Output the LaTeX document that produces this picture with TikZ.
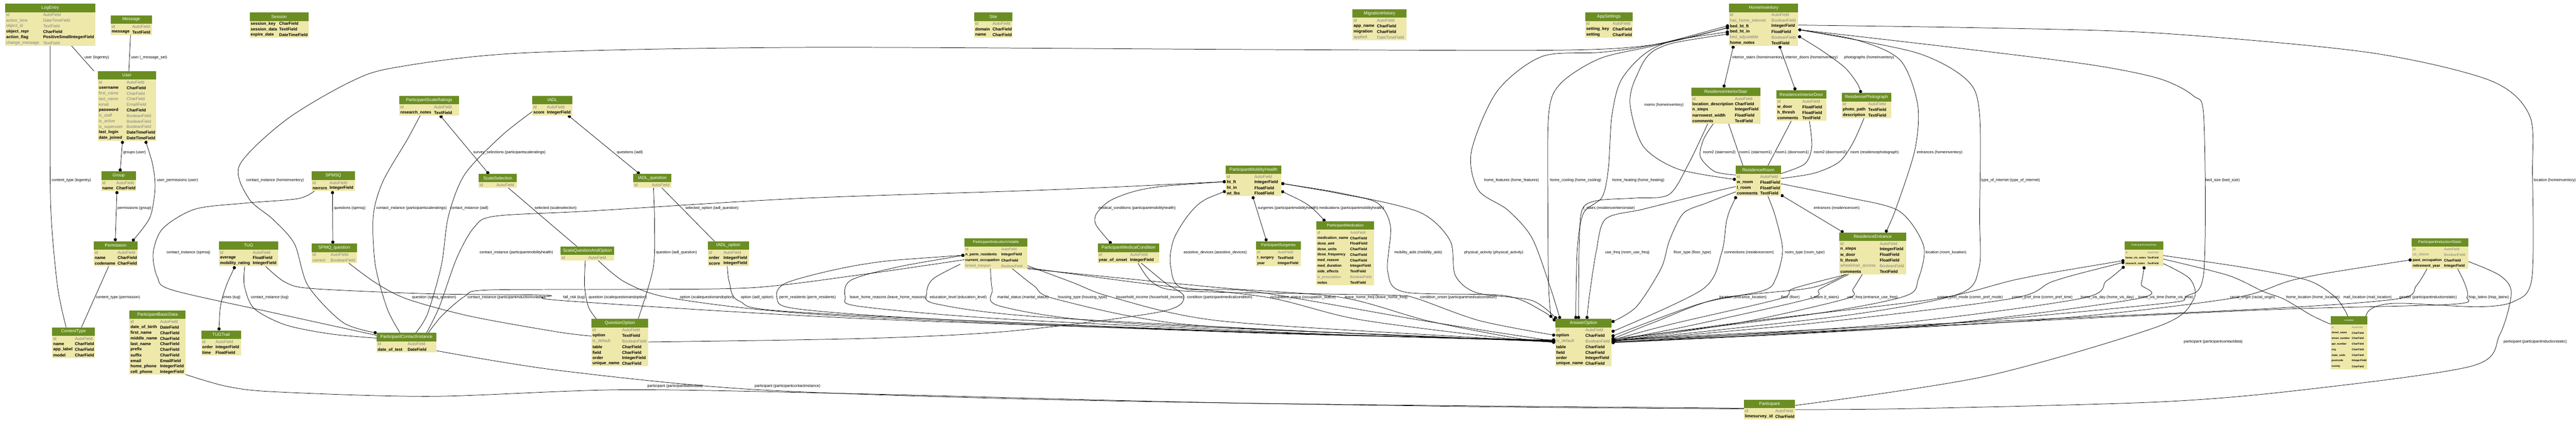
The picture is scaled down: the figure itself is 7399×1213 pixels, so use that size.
\documentclass[tikz,border=0pt]{standalone}
\usepackage{fontspec}
\setmainfont{Liberation Sans}
\usetikzlibrary{arrows.meta}
\pgfdeclarelayer{bg}
\pgfsetlayers{bg,main}
\definecolor{hdr}{HTML}{6B8E23}
\definecolor{bodyc}{HTML}{EEE8AA}
\definecolor{fg}{HTML}{7F7F7F}
\definecolor{fk}{HTML}{000000}
\newcommand\rowfontA{\fontsize{12}{14}\selectfont}
\newcommand\headfontA{\fontsize{12.5}{14}\selectfont}
\newcommand\rowfontB{\fontsize{10.5}{12}\selectfont}
\newcommand\headfontB{\fontsize{11}{12}\selectfont}
\newcommand\rowfontC{\fontsize{7.5}{9}\selectfont}
\newcommand\headfontC{\fontsize{7}{8}\selectfont}
\newcommand\fontfg{\mdseries}
\newcommand\fontfk{\bfseries}
\newcommand{\mtab}[9]{%
  \node[tbody, anchor=north west, minimum width=#4pt, minimum height={(24+16*#6)*1pt}] (#1) at (#2,#3) {};
  \node[thead, anchor=north west, minimum width=#4pt, font=\csname headfont#9\endcsname] (#1-h) at (#2,#3) {#7};
  \foreach \rc/\rf/\rt [count=\ri] in {#8} {%
    \node[fld, text=\rc, font=\csname rowfont#9\endcsname\csname font\rc\endcsname] (#1-f\ri) at ([shift={(3,{16*\ri+16})}]#1.north west) {\rf};
    \node[fld, text=\rc, font=\csname rowfont#9\endcsname\csname font\rc\endcsname] (#1-t\ri) at ([shift={(#5,{16*\ri+16})}]#1.north west) {\rt};
  }%
}
\begin{document}
\begin{tikzpicture}[x=1pt,y=-1pt,
  tbody/.style={fill=bodyc, inner sep=0pt, outer sep=0pt},
  thead/.style={fill=hdr, inner sep=0pt, outer sep=0pt, minimum height=24pt, text=white},
  fld/.style={anchor=west, inner sep=0pt, outer sep=0pt},
  elab/.style={anchor=west, inner sep=0.5pt, font=\fontsize{11}{12}\selectfont},
  conn/.style={line width=1.1pt, draw=black},
  dS/.style={{Circle[length=9pt]}-},
  dE/.style={-{Circle[length=9pt]}},
  dB/.style={{Circle[length=9pt]}-{Circle[length=9pt]}}]
\useasboundingbox (0,0) rectangle (7399,1213);

% ---------------- tables ----------------
\mtab{logentry}{15}{11}{259}{109}{6}{LogEntry}{fg/id/AutoField, fg/action\_time/DateTimeField, fg/object\_id/TextField, fk/object\_repr/CharField, fk/action\_flag/PositiveSmallIntegerField, fg/change\_message/TextField}{A}
\mtab{message}{318}{44}{118}{62}{2}{Message}{fg/id/AutoField, fk/message/TextField}{A}
\mtab{session}{717}{36}{169}{85}{3}{Session}{fk/session\_key/CharField, fk/session\_data/TextField, fk/expire\_date/DateTimeField}{A}
\mtab{user}{281}{204}{167}{83}{11}{User}{fg/id/AutoField, fk/username/CharField, fg/first\_name/CharField, fg/last\_name/CharField, fg/email/EmailField, fk/password/CharField, fg/is\_staff/BooleanField, fg/is\_active/BooleanField, fg/is\_superuser/BooleanField, fk/last\_login/DateTimeField, fk/date\_joined/DateTimeField}{A}
\mtab{group}{291}{492}{100}{43}{2}{Group}{fg/id/AutoField, fk/name/CharField}{A}
\mtab{spmsq}{895}{492}{125}{52}{2}{SPMSQ}{fg/id/AutoField, fk/nerrors/IntegerField}{A}
\mtab{psr}{1147}{275}{171}{100}{2}{ParticipantScaleRatings}{fg/id/AutoField, fk/research\_notes/TextField}{A}
\mtab{iadl}{1529}{275}{115}{42}{2}{IADL}{fg/id/AutoField, fk/score/IntegerField}{A}
\mtab{scalesel}{1375}{499}{109}{51}{1}{ScaleSelection}{fg/id/AutoField}{A}
\mtab{iadlq}{1819}{499}{109}{53}{1}{IADL\_question}{fg/id/AutoField}{A}
\mtab{site}{2798}{36}{110}{53}{3}{Site}{fg/id/AutoField, fk/domain/CharField, fk/name/CharField}{A}
\mtab{pmh}{3521}{475}{159}{82}{4}{ParticipantMobilityHealth}{fg/id/AutoField, fk/ht\_ft/IntegerField, fk/ht\_in/FloatField, fk/wt\_lbs/FloatField}{A}
\mtab{mighist}{3885}{27}{155}{70}{4}{MigrationHistory}{fg/id/AutoField, fk/app\_name/CharField, fk/migration/CharField, fg/applied/DateTimeField}{A}
\mtab{appset}{4553}{36}{136}{79}{3}{AppSettings}{fg/id/AutoField, fk/setting\_key/CharField, fk/setting/CharField}{A}
\mtab{hi}{4966}{11}{199}{122}{6}{HomeInventory}{fg/id/AutoField, fg/has\_home\_internet/BooleanField, fk/bed\_ht\_ft/IntegerField, fk/bed\_ht\_in/FloatField, fg/bed\_adjustable/BooleanField, fk/home\_notes/TextField}{A}
\mtab{ris}{4858}{251}{198}{125}{5}{ResidenceInteriorStair}{fg/id/AutoField, fk/location\_description/CharField, fk/n\_steps/IntegerField, fk/narrowest\_width/FloatField, fk/comments/TextField}{A}
\mtab{rid}{5102}{259}{144}{75}{4}{ResidenceInteriorDoor}{fg/id/AutoField, fk/w\_door/FloatField, fk/h\_thresh/FloatField, fk/comments/TextField}{A}
\mtab{rp}{5290}{267}{142}{76}{3}{ResidencePhotograph}{fg/id/AutoField, fk/photo\_path/TextField, fk/description/TextField}{A}
\mtab{rr}{4986}{475}{129}{70}{4}{ResidenceRoom}{fg/id/AutoField, fk/w\_room/FloatField, fk/l\_room/FloatField, fk/comments/TextField}{A}
\mtab{perm}{269}{692}{126}{69}{3}{Permission}{fg/id/AutoField, fk/name/CharField, fk/codename/CharField}{A}
\mtab{tug}{629}{692}{170}{97}{3}{TUG}{fg/id/AutoField, fk/average/FloatField, fk/mobility\_rating/IntegerField}{A}
\mtab{spmqq}{895}{699}{130}{55}{2}{SPMQ\_question}{fg/id/AutoField, fg/correct/BooleanField}{A}
\mtab{ct}{150}{939}{122}{65}{4}{ContentType}{fg/id/AutoField, fk/name/CharField, fk/app\_label/CharField, fk/model/CharField}{A}
\mtab{pbd}{372}{891}{161}{88}{10}{ParticipantBasicData}{fg/id/AutoField, fk/date\_of\_birth/DateField, fk/first\_name/CharField, fk/middle\_name/CharField, fk/last\_name/CharField, fk/prefix/CharField, fk/suffix/CharField, fk/email/EmailField, fk/home\_phone/IntegerField, fk/cell\_phone/IntegerField}{A}
\mtab{tugt}{578}{948}{114}{41}{3}{TUGTrail}{fg/id/AutoField, fk/order/IntegerField, fk/time/FloatField}{A}
\mtab{pci}{1082}{955}{171}{89}{2}{ParticipantContactInstance}{fg/id/AutoField, fk/date\_of\_test/DateField}{A}
\mtab{sqo}{1610}{707}{154}{80}{1}{ScaleQuestionAndOption}{fg/id/AutoField}{A}
\mtab{iadlo}{2033}{692}{118}{45}{3}{IADL\_option}{fg/id/AutoField, fk/order/IntegerField, fk/score/IntegerField}{A}
\mtab{qo}{1699}{915}{163}{88}{7}{QuestionOption}{fg/id/AutoField, fk/option/TextField, fg/is\_default/BooleanField, fk/table/CharField, fk/field/CharField, fk/order/IntegerField, fk/unique\_name/CharField}{A}
\mtab{piv}{2770}{683}{181}{106}{4}{ParticipantInductionVolatile}{fg/id/AutoField, fk/n\_perm\_residents/IntegerField, fk/current\_occupation/CharField, fg/limited\_tranport/BooleanField}{B}
\mtab{pmc}{3153}{699}{177}{93}{2}{ParticipantMedicalCondition}{fg/id/AutoField, fk/year\_of\_onset/IntegerField}{A}
\mtab{ps}{3608}{692}{128}{62}{3}{ParticipantSurgeries}{fg/id/AutoField, fk/t\_surgery/TextField, fk/year/IntegerField}{B}
\mtab{pm}{3781}{635}{166}{97}{10}{ParticipantMedication}{fg/id/AutoField, fk/medication\_name/CharField, fk/dose\_amt/FloatField, fk/dose\_units/CharField, fk/dose\_frequency/CharField, fk/med\_reason/CharField, fk/med\_duration/IntegerField, fk/side\_effects/TextField, fg/is\_prescription/BooleanField, fk/notes/TextField}{B}
\mtab{ao}{4467}{915}{162}{87}{7}{AnswerOption}{fg/id/AutoField, fk/option/CharField, fg/is\_default/BooleanField, fk/table/CharField, fk/field/CharField, fk/order/IntegerField, fk/unique\_name/CharField}{A}
\mtab{re}{5283}{667}{192}{116}{6}{ResidenceEntrance}{fg/id/AutoField, fk/n\_steps/IntegerField, fk/w\_door/FloatField, fk/h\_thresh/FloatField, fg/wheelchair\_access/BooleanField, fk/comments/TextField}{A}
\mtab{pcd}{6102}{692}{111}{66}{3}{ParticipantContactData}{fg/id/AutoField, fk/home\_vis\_notes/TextField, fk/research\_notes/TextField}{C}
\mtab{part}{5009}{1147}{147}{90}{2}{Participant}{fg/id/AutoField, fk/limesurvey\_id/CharField}{A}
\mtab{pis}{6927}{683}{162}{93}{4}{ParticipantInductionStatic}{fg/id/AutoField, fg/us\_citizen/BooleanField, fk/past\_occupation/CharField, fk/retirement\_year/IntegerField}{B}
\mtab{loc}{6694}{907}{106}{61}{8}{Location}{fg/id/AutoField, fk/street\_name/CharField, fk/street\_number/CharField, fk/apt\_number/CharField, fk/city/CharField, fk/state\_code/CharField, fk/postcode/IntegerField, fk/county/CharField}{C}

% ---------------- connectors ----------------
\begin{pgfonlayer}{bg}
\fill[white] (0,0) rectangle (7399,1213);
\draw[conn] ([shift={(190,120)}]logentry.north west) -- ([shift={(-11,0)}]user.north west);
\draw[conn] ([shift={(57,56)}]message.north west) -- ([shift={(89,0)}]user.north west);
\draw[conn,dB] ([shift={(71,200)}]user.north west) -- ([shift={(54,0)}]group.north west);
\draw[conn,dB] plot[smooth] coordinates {([shift={(137,200)}]user.north west) (440,480) (445,545) (430,625) ([shift={(111,0)}]perm.north west)};
\draw[conn,dB] ([shift={(45,56)}]group.north west) -- ([shift={(62,0)}]perm.north west);
\draw[conn] plot[smooth] coordinates {([shift={(129,120)}]logentry.north west) (144,300) (146,600) (165,820) ([shift={(40,0)}]ct.north west)};
\draw[conn] ([shift={(43,72)}]perm.north west) -- ([shift={(84,0)}]ct.north west);
\draw[conn,dB] ([shift={(60,56)}]spmsq.north west) -- ([shift={(61,0)}]spmqq.north west);
\draw[conn] plot[smooth] coordinates {([shift={(8,56)}]spmsq.north west) (855,570) (700,583) (560,600) (468,655) (440,725) (452,795) (495,832) (780,896) ([shift={(0,7)}]pci.north west)};
\draw[conn,dB] plot[smooth] coordinates {([shift={(46,72)}]tug.north west) (648,825) (633,880) ([shift={(51,0)}]tugt.north west)};
\draw[conn] plot[smooth] coordinates {([shift={(74,72)}]tug.north west) (702,820) (730,885) (820,932) (950,958) ([shift={(0,15)}]pci.north west)};
\draw[conn,dE] plot[smooth] coordinates {([shift={(0,67)}]hi.north west) (4752,128) (4470,144) (3600,142) (2300,136) (1500,152) (1133,194) (1000,238) (820,345) (688,474) (715,570) (785,630) (846,700) (885,820) (985,925) ([shift={(0,0)}]pci.north west)};
\draw[conn,dB] ([shift={(117,56)}]psr.north west) -- ([shift={(29,0)}]scalesel.north west);
\draw[conn,dB] ([shift={(103,56)}]iadl.north west) -- ([shift={(18,0)}]iadlq.north west);
\draw[conn] plot[smooth] coordinates {([shift={(60,56)}]psr.north west) (1170,400) (1100,520) (1072,620) (1078,760) (1112,885) ([shift={(67,0)}]pci.north west)};
\draw[conn] plot[smooth] coordinates {([shift={(0,45)}]iadl.north west) (1440,390) (1335,500) (1288,620) (1268,760) (1228,900) ([shift={(112,0)}]pci.north west)};
\draw[conn] ([shift={(85,40)}]scalesel.north west) -- ([shift={(47,0)}]sqo.north west);
\draw[conn] plot[smooth] coordinates {([shift={(58,40)}]iadlq.north west) (1880,640) (1876,770) ([shift={(134,0)}]qo.north west)};
\draw[conn] ([shift={(82,40)}]iadlq.north west) -- ([shift={(19,0)}]iadlo.north west);
\draw[conn,dS] plot[smooth] coordinates {([shift={(0,46)}]pmh.north west) (3000,545) (2300,569) (1700,605) (1423,620) (1362,652) (1312,740) (1262,880) ([shift={(143,0)}]pci.north west)};
\draw[conn,dB] plot[smooth] coordinates {([shift={(0,46)}]pmh.north west) (3300,540) (3195,572) (3150,612) (3148,645) ([shift={(39,0)}]pmc.north west)};
\draw[conn,dB] plot[smooth] coordinates {([shift={(0,73)}]pmh.north west) (3450,580) (3407,625) (3370,690) (3362,760) (3397,827) (3600,836) (4100,922) ([shift={(0,64)}]ao.north west)};
\draw[conn,dB] ([shift={(77,88)}]pmh.north west) -- ([shift={(30,0)}]ps.north west);
\draw[conn,dB] plot[smooth] coordinates {([shift={(159,73)}]pmh.north west) (3760,590) ([shift={(25,0)}]pm.north west)};
\draw[conn,dB] plot[smooth] coordinates {([shift={(159,51)}]pmh.north west) (3850,556) (3956,582) (3994,650) (3986,780) (4036,838) (4321,848) (4430,892) ([shift={(0,6)}]ao.north west)};
\draw[conn,dB] plot[smooth] coordinates {([shift={(159,51)}]pmh.north west) (3880,560) (4080,610) (4165,690) (4180,790) (4242,840) (4400,862) ([shift={(4,0)}]ao.north west)};
\draw[conn,dB] plot[smooth] coordinates {([shift={(0,62)}]hi.north west) (4752,128) (4600,150) (4429,162) (4300,262) (4226,435) (4246,545) (4330,602) (4400,682) (4452,822) ([shift={(14,0)}]ao.north west)};
\draw[conn,dB] plot[smooth] coordinates {([shift={(0,68)}]hi.north west) (4752,131) (4595,168) (4482,240) (4448,330) (4446,620) (4448,820) ([shift={(-12,-3)}]ao.north west)};
\draw[conn,dB] plot[smooth] coordinates {([shift={(0,80)}]hi.north west) (4760,133) (4661,222) (4630,330) (4620,480) (4602,565) (4548,612) (4530,720) ([shift={(59,0)}]ao.north west)};
\draw[conn,dB] plot[smooth] coordinates {([shift={(0,86)}]hi.north west) (4760,140) (4700,220) (4682,300) (4720,420) (4820,485) ([shift={(0,40)}]rr.north west)};
\draw[conn,dE] plot[smooth] coordinates {([shift={(47,104)}]ris.north west) (4850,470) (4794,558) (4700,568) (4590,575) (4545,600) (4536,700) ([shift={(67,0)}]ao.north west)};
\draw[conn,dE] plot[smooth] coordinates {([shift={(0,60)}]rr.north west) (4900,555) (4720,600) (4612,628) (4585,720) (4565,850) ([shift={(91,0)}]ao.north west)};
\draw[conn,dE] plot[smooth] coordinates {([shift={(0,75)}]rr.north west) (4900,583) (4835,612) (4795,690) (4771,770) (4700,880) ([shift={(162,9)}]ao.north west)};
\draw[conn,dB] plot[smooth] coordinates {([shift={(1,88)}]rr.north west) (4960,630) (4945,725) (4890,830) ([shift={(162,37)}]ao.north west)};
\draw[conn,dE] plot[smooth] coordinates {([shift={(92,88)}]rr.north west) (5099,620) (5120,717) (5100,800) (5063,834) (4880,872) ([shift={(162,50)}]ao.north west)};
\draw[conn,dE] plot[smooth] coordinates {([shift={(129,52)}]rr.north west) (5300,565) (5454,605) (5525,705) (5510,800) (5470,850) (5200,902) ([shift={(162,58)}]ao.north west)};
\draw[conn,dB] ([shift={(129,84)}]rr.north west) -- ([shift={(12,0)}]re.north west);
\draw[conn,dB] ([shift={(13,120)}]hi.north west) -- ([shift={(93,0)}]ris.north west);
\draw[conn,dB] ([shift={(145,120)}]hi.north west) -- ([shift={(55,0)}]rid.north west);
\draw[conn,dB] plot[smooth] coordinates {([shift={(199,92)}]hi.north west) (5240,150) (5300,195) (5335,240) ([shift={(55,0)}]rp.north west)};
\draw[conn,dB] plot[smooth] coordinates {([shift={(199,74)}]hi.north west) (5350,120) (5460,175) (5508,300) (5500,430) (5445,600) ([shift={(133,0)}]re.north west)};
\draw[conn,dE] plot[smooth] coordinates {([shift={(199,74)}]hi.north west) (5500,150) (5650,230) (5686,330) (5686,620) (5684,770) (5624,844) (5300,905) ([shift={(162,64)}]ao.north west)};
\draw[conn,dE] plot[smooth] coordinates {([shift={(199,74)}]hi.north west) (5600,135) (6000,185) (6200,225) (6300,275) (6330,340) (6330,780) (6280,850) (6200,872) (5500,935) ([shift={(162,68)}]ao.north west)};
\draw[conn] plot[smooth] coordinates {([shift={(199,61)}]hi.north west) (5700,80) (6200,95) (6800,150) (7150,230) (7265,330) (7274,500) (7272,800) (7220,865) (7117,880) (6900,870) (6835,876) (6805,890) ([shift={(101,0)}]loc.north west)};
\draw[conn] ([shift={(107,104)}]ris.north west) -- ([shift={(20,0)}]rr.north west);
\draw[conn] plot[smooth] coordinates {([shift={(63,104)}]ris.north west) (4893,400) (4884,450) (4925,492) ([shift={(0,27)}]rr.north west)};
\draw[conn] ([shift={(43,88)}]rid.north west) -- ([shift={(92,0)}]rr.north west);
\draw[conn] plot[smooth] coordinates {([shift={(95,88)}]rid.north west) (5204,420) (5184,470) ([shift={(129,23)}]rr.north west)};
\draw[conn] plot[smooth] coordinates {([shift={(64,72)}]rp.north west) (5322,410) (5282,465) (5210,497) ([shift={(129,37)}]rr.north west)};
\draw[conn] plot[smooth] coordinates {([shift={(71,40)}]sqo.north west) (1679,820) (1690,880) ([shift={(14,0)}]qo.north west)};
\draw[conn,dE] plot[smooth] coordinates {([shift={(108,40)}]sqo.north west) (1800,812) (1945,858) (2400,905) (3600,955) ([shift={(0,60)}]ao.north west)};
\draw[conn,dE] plot[smooth] coordinates {([shift={(56,72)}]iadlo.north west) (2095,810) (2124,864) (2300,896) (3500,950) ([shift={(0,62)}]ao.north west)};
\draw[conn,dB] plot[smooth] coordinates {([shift={(0,49)}]piv.north west) (2480,758) (2262,810) (2232,856) (2290,886) (2700,916) (3700,956) ([shift={(0,63)}]ao.north west)};
\draw[conn,dB] plot[smooth] coordinates {([shift={(0,49)}]piv.north west) (2560,770) (2442,805) (2428,852) (2470,879) (2900,916) (3800,958) ([shift={(0,64)}]ao.north west)};
\draw[conn] plot[smooth] coordinates {([shift={(0,62)}]piv.north west) (2480,787) (2165,825) (1800,830) (1398,832) (1335,850) (1270,905) ([shift={(148,0)}]pci.north west)};
\draw[conn,dE] plot[smooth] coordinates {([shift={(134,72)}]tug.north west) (820,810) (900,828) (1240,843) (1572,847) (1612,862) (2500,915) (3900,962) ([shift={(0,62)}]ao.north west)};
\draw[conn] plot[smooth] coordinates {([shift={(107,56)}]spmqq.north west) (1080,812) (1170,858) (1350,907) (1600,952) ([shift={(0,49)}]qo.north west)};
\draw[conn] plot[smooth] coordinates {([shift={(171,51)}]pci.north west) (1600,1062) (2160,1117) (3000,1146) (4200,1166) ([shift={(0,26)}]part.north west)};
\draw[conn] plot[smooth] coordinates {([shift={(160,183)}]pbd.north west) (650,1108) (790,1124) (1240,1137) (1793,1118) (2480,1130) (3600,1157) ([shift={(0,24)}]part.north west)};
\draw[conn] plot[smooth] coordinates {([shift={(125,56)}]pmc.north west) (3345,810) (3401,852) (3330,895) (2900,950) (2480,971) ([shift={(163,66)}]qo.north west)};
\draw[conn,dE] plot[smooth] coordinates {([shift={(116,56)}]pmc.north west) (3310,810) (3389,834) (3720,842) (4000,847) (4068,856) (4250,920) ([shift={(0,47)}]ao.north west)};
\draw[conn,dE] plot[smooth] coordinates {([shift={(-12,75)}]piv.north west) (2680,800) (2662,840) (2690,872) (3000,910) (4000,962) ([shift={(0,64)}]ao.north west)};
\draw[conn,dE] plot[smooth] coordinates {([shift={(75,88)}]piv.north west) (2850,830) (2872,878) (3200,925) (4100,965) ([shift={(0,65)}]ao.north west)};
\draw[conn,dE] plot[smooth] coordinates {([shift={(138,88)}]piv.north west) (2970,820) (3033,858) (3400,930) (4100,965) ([shift={(0,66)}]ao.north west)};
\draw[conn,dE] plot[smooth] coordinates {([shift={(181,79)}]piv.north west) (3080,810) (3195,853) (3500,920) (4200,966) ([shift={(0,66)}]ao.north west)};
\draw[conn,dE] plot[smooth] coordinates {([shift={(181,85)}]piv.north west) (3300,815) (3640,853) (3900,916) (4300,968) ([shift={(0,67)}]ao.north west)};
\draw[conn,dE] plot[smooth] coordinates {([shift={(181,88)}]piv.north west) (3500,825) (3852,853) (4100,920) (4350,969) ([shift={(0,67)}]ao.north west)};
\draw[conn,dE] plot[smooth] coordinates {([shift={(18,120)}]re.north west) (5200,826) (4935,857) (4750,925) ([shift={(162,58)}]ao.north west)};
\draw[conn,dE] plot[smooth] coordinates {([shift={(22,120)}]re.north west) (5150,828) (5112,857) (4800,930) ([shift={(162,61)}]ao.north west)};
\draw[conn,dE] plot[smooth] coordinates {([shift={(27,120)}]re.north west) (5226,830) (5197,857) (4850,935) ([shift={(162,63)}]ao.north west)};
\draw[conn,dE] plot[smooth] coordinates {([shift={(66,120)}]re.north west) (5322,830) (5302,857) (5000,925) ([shift={(162,65)}]ao.north west)};
\draw[conn,dB] plot[smooth] coordinates {([shift={(0,55)}]pcd.north west) (5800,800) (5561,857) (5000,925) ([shift={(162,62)}]ao.north west)};
\draw[conn,dB] plot[smooth] coordinates {([shift={(0,60)}]pcd.north west) (5900,806) (5775,857) (5200,928) ([shift={(162,64)}]ao.north west)};
\draw[conn,dB] plot[smooth] coordinates {([shift={(0,72)}]pcd.north west) (6050,806) (5973,857) (5400,932) ([shift={(162,66)}]ao.north west)};
\draw[conn,dB] plot[smooth] coordinates {([shift={(57,72)}]pcd.north west) (6150,815) (6138,857) (5500,937) ([shift={(162,68)}]ao.north west)};
\draw[conn,dB] plot[smooth] coordinates {([shift={(0,62)}]pis.north west) (6600,800) (6402,857) (5800,922) ([shift={(162,66)}]ao.north west)};
\draw[conn] plot[smooth] coordinates {([shift={(111,51)}]pcd.north west) (6400,790) (6500,836) (6560,858) (6640,905) ([shift={(0,23)}]loc.north west)};
\draw[conn] plot[smooth] coordinates {([shift={(111,41)}]pcd.north west) (6450,768) (6628,804) (6705,850) (6735,890) ([shift={(49,0)}]loc.north west)};
\draw[conn,dE] plot[smooth] coordinates {([shift={(44,88)}]pis.north west) (6940,820) (6888,857) (6500,886) (5500,932) ([shift={(162,60)}]ao.north west)};
\draw[conn,dE] plot[smooth] coordinates {([shift={(132,88)}]pis.north west) (7080,815) (7086,852) (7040,873) (6500,889) (5500,937) ([shift={(162,62)}]ao.north west)};
\draw[conn] plot[smooth] coordinates {([shift={(162,67)}]pis.north west) (7180,790) (7213,840) (7180,960) (7100,1050) (6600,1120) (6200,1153) (5500,1172) ([shift={(147,28)}]part.north west)};
\draw[conn] plot[smooth] coordinates {([shift={(111,64)}]pcd.north west) (6290,800) (6300,860) (6200,936) (5700,1080) ([shift={(147,16)}]part.north west)};
\end{pgfonlayer}

% ---------------- labels ----------------
\node[elab] (l1) at (242,165) {user (logentry)};
\node[elab] (l2) at (376,165) {user (\_message\_set)};
\node[elab] (l3) at (353,437) {groups (user)};
\node[elab] (l4) at (450,517) {user\_permissions (user)};
\node[elab] (l5) at (337,597) {permissions (group)};
\node[elab] (l6) at (148,517) {content\_type (logentry)};
\node[elab] (l7) at (275,853) {content\_type (permission)};
\node[elab] (l8) at (959,597) {questions (spmsq)};
\node[elab] (l9) at (478,725) {contact\_instance (spmsq)};
\node[elab] (l10) at (638,853) {times (tug)};
\node[elab] (l11) at (720,853) {contact\_instance (tug)};
\node[elab] (l12) at (707,517) {contact\_instance (homeinventory)};
\node[elab] (l13) at (1359,437) {survey\_selections (participantscaleratings)};
\node[elab] (l14) at (1771,437) {questions (iadl)};
\node[elab] (l15) at (1080,597) {contact\_instance (participantscaleratings)};
\node[elab] (l16) at (1292,597) {contact\_instance (iadl)};
\node[elab] (l17) at (1535,597) {selected (scaleselection)};
\node[elab] (l18) at (1884,725) {question (iadl\_question)};
\node[elab] (l19) at (1968,597) {selected\_option (iadl\_question)};
\node[elab] (l20) at (1377,725) {contact\_instance (participantmobilityhealth)};
\node[elab] (l21) at (3154,597) {medical\_conditions (participantmobilityhealth)};
\node[elab] (l22) at (3399,725) {assistive\_devices (assistive\_devices)};
\node[elab] (l23) at (3612,597) {surgeries (participantmobilityhealth)};
\node[elab] (l24) at (3788,597) {medications (participantmobilityhealth)};
\node[elab] (l25) at (4004,725) {mobility\_aids (mobility\_aids)};
\node[elab] (l26) at (4205,725) {physical\_activity (physical\_activity)};
\node[elab] (l27) at (4262,517) {home\_features (home\_features)};
\node[elab] (l28) at (4451,517) {home\_cooling (home\_cooling)};
\node[elab] (l29) at (4630,517) {home\_heating (home\_heating)};
\node[elab] (l30) at (4722,301) {rooms (homeinventory)};
\node[elab] (l31) at (4547,597) {t\_stairs (residenceinteriorstair)};
\node[elab] (l32) at (4610,725) {use\_freq (room\_use\_freq)};
\node[elab] (l33) at (4807,725) {floor\_type (floor\_type)};
\node[elab] (l34) at (4952,725) {connections (residenceroom)};
\node[elab] (l35) at (5126,725) {room\_type (room\_type)};
\node[elab] (l36) at (5530,725) {location (room\_location)};
\node[elab] (l37) at (5209,597) {entrances (residenceroom)};
\node[elab] (l38) at (4975,165) {interior\_stairs (homeinventory)};
\node[elab] (l39) at (5128,165) {interior\_doors (homeinventory)};
\node[elab] (l40) at (5296,165) {photographs (homeinventory)};
\node[elab] (l41) at (5505,437) {entrances (homeinventory)};
\node[elab] (l42) at (5690,517) {type\_of\_internet (type\_of\_internet)};
\node[elab] (l43) at (6334,517) {bed\_size (bed\_size)};
\node[elab] (l44) at (7277,517) {location (homeinventory)};
\node[elab] (l45) at (4995,437) {room1 (stairroom1)};
\node[elab] (l46) at (4891,437) {room2 (stairroom2)};
\node[elab] (l47) at (5100,437) {room1 (doorroom1)};
\node[elab] (l48) at (5209,437) {room2 (doorroom2)};
\node[elab] (l49) at (5314,437) {room (residencephotograph)};
\node[elab] (l50) at (1690,853) {question (scalequestionandoption)};
\node[elab] (l51) at (1952,853) {option (scalequestionandoption)};
\node[elab] (l52) at (2127,853) {option (iadl\_option)};
\node[elab] (l53) at (2238,853) {perm\_residents (perm\_residents)};
\node[elab] (l54) at (2440,853) {leave\_home\_reasons (leave\_home\_reasons)};
\node[elab] (l55) at (1342,853) {contact\_instance (participantinductionvolatile)};
\node[elab] (l56) at (1617,853) {fall\_risk (tug)};
\node[elab] (l57) at (1183,853) {question (spmq\_question)};
\node[elab] (l58) at (2167,1107) {participant (participantcontactinstance)};
\node[elab] (l59) at (1859,1107) {participant (participantbasicdata)};
\node[elab] (l60) at (3409,853) {condition (participantmedicalcondition)};
\node[elab] (l61) at (4078,853) {condition\_onset (participantmedicalcondition)};
\node[elab] (l62) at (2670,853) {education\_level (education\_level)};
\node[elab] (l63) at (2864,853) {marital\_status (marital\_status)};
\node[elab] (l64) at (3038,853) {housing\_type (housing\_type)};
\node[elab] (l65) at (3205,853) {household\_income (household\_income)};
\node[elab] (l66) at (3648,853) {occupation\_status (occupation\_status)};
\node[elab] (l67) at (3862,853) {leave\_home\_freq (leave\_home\_freq)};
\node[elab] (l68) at (4938,853) {location (entrance\_location)};
\node[elab] (l69) at (5115,853) {floor (floor)};
\node[elab] (l70) at (5200,853) {t\_stairs (t\_stairs)};
\node[elab] (l71) at (5305,853) {use\_freq (entrance\_use\_freq)};
\node[elab] (l72) at (5564,853) {comm\_pref\_mode (comm\_pref\_mode)};
\node[elab] (l73) at (5778,853) {comm\_pref\_time (comm\_pref\_time)};
\node[elab] (l74) at (5976,853) {home\_vis\_day (home\_vis\_day)};
\node[elab] (l75) at (6141,853) {home\_vis\_time (home\_vis\_time)};
\node[elab] (l76) at (6405,853) {racial\_origin (racial\_origin)};
\node[elab] (l77) at (6566,853) {home\_location (home\_location)};
\node[elab] (l78) at (6730,853) {mail\_location (mail\_location)};
\node[elab] (l79) at (6891,853) {gender (participantinductionstatic)};
\node[elab] (l80) at (7090,853) {hisp\_latino (hisp\_latino)};
\node[elab] (l81) at (7190,981) {participant (participantinductionstatic)};
\node[elab] (l82) at (6272,981) {participant (participantcontactdata)};
\end{tikzpicture}
\end{document}
